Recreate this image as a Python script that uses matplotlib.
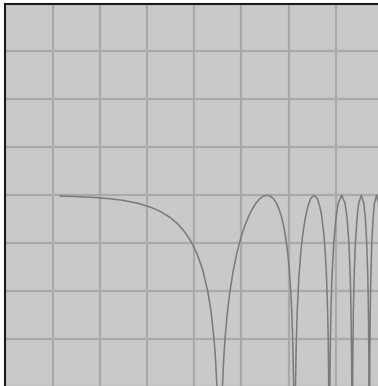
import matplotlib
matplotlib.use("Agg")
import matplotlib.pyplot as plt
import numpy as np

# x in octaves from left edge of the plot, y in dB
lobe1_x = [1.159, 1.481, 1.896, 2.218, 2.481, 2.803, 3.066, 3.288, 3.481, 3.651,
           3.803, 3.940, 4.066, 4.182, 4.288, 4.356, 4.420, 4.451, 4.481, 4.511]
lobe1_db = [-0.10, -0.16, -0.28, -0.44, -0.63, -1.00, -1.47, -2.05, -2.75, -3.59,
            -4.62, -5.87, -7.42, -9.40, -12.09, -14.55, -18.04, -20.53, -24.04, -30.06]

lobe2_x = [4.569, 4.597, 4.624, 4.651, 4.704, 4.754, 4.827, 4.896, 4.962, 5.025,
           5.086, 5.144, 5.218, 5.306, 5.388, 5.466, 5.540, 5.610, 5.678, 5.742,
           5.803, 5.850, 5.885, 5.919, 5.951, 5.984, 6.015, 6.046, 6.066, 6.086,
           6.096, 6.106, 6.115]
lobe2_db = [-30.06, -24.04, -20.53, -18.04, -14.55, -12.09, -9.40, -7.42, -5.87, -4.62,
            -3.59, -2.75, -1.84, -1.00, -0.44, -0.11, 0.0, -0.11, -0.44, -1.00,
            -1.84, -2.75, -3.59, -4.62, -5.87, -7.42, -9.40, -12.09, -14.55, -18.04,
            -20.53, -24.04, -30.06]

lobe3_x = [6.135, 6.144, 6.163, 6.182, 6.218, 6.262, 6.306, 6.356, 6.404, 6.466,
           6.540, 6.610, 6.664, 6.704, 6.742, 6.773, 6.803, 6.827, 6.839, 6.850, 6.856]
lobe3_db = [-30.06, -24.04, -18.04, -14.55, -10.20, -6.86, -4.62, -2.75, -1.47, -0.44,
            0.0, -0.44, -1.47, -2.75, -4.62, -6.86, -10.20, -14.55, -18.04, -24.04, -30.06]

lobe4_x = [6.868, 6.879, 6.896, 6.918, 6.957, 7.005, 7.051, 7.125,
           7.195, 7.236, 7.276, 7.306, 7.322, 7.335, 7.343]
lobe5_x = [7.351, 7.360, 7.372, 7.388, 7.416, 7.451, 7.485, 7.540,
           7.593, 7.624, 7.654, 7.678, 7.691, 7.700, 7.707]
lobe6_x = [7.713, 7.720, 7.729, 7.742, 7.763, 7.791, 7.818, 7.862,
           7.905, 7.930, 7.954, 7.973, 7.984, 7.992, 7.997]
narrow_db = [-30.06, -20.53, -14.55, -10.20, -5.87, -2.75, -1.00, 0.0,
             -1.00, -2.75, -5.87, -10.20, -14.55, -20.53, -30.06]

x = np.array(lobe1_x + lobe2_x + lobe3_x + lobe4_x + lobe5_x + lobe6_x)
db = np.array(lobe1_db + lobe2_db + lobe3_db + narrow_db * 3)

fig = plt.figure(figsize=(3.78, 3.86), dpi=100, facecolor="white")
ax = fig.add_axes([0.01455, -0.00259, 0.9987, 0.99352])
ax.set_facecolor("#c9c9c9")

ax.plot(x, db, color="#7a7a7a", lw=1.1)

ax.set_xlim(0, 8)
ax.set_ylim(-24, 24)
ax.set_xticks(np.arange(0, 9, 1))
ax.set_yticks(np.arange(-24, 25, 6))
ax.grid(True, color="#a9a9a9", lw=1.6)
ax.set_axisbelow(True)
ax.tick_params(length=0, labelleft=False, labelbottom=False)
for side in ["left", "top"]:
    ax.spines[side].set_color("#1a1a1a")
    ax.spines[side].set_linewidth(1.5)
for side in ["right", "bottom"]:
    ax.spines[side].set_visible(False)

fig.savefig("out.png", dpi=100)
